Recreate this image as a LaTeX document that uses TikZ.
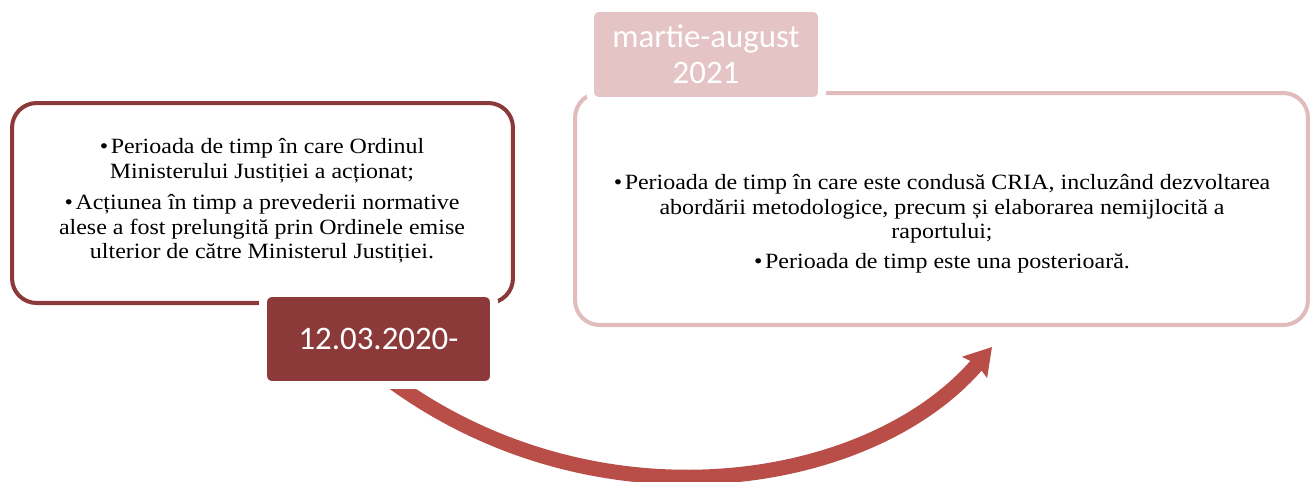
\documentclass[tikz,border=0pt]{standalone}
\usepackage{fontspec}
\setmainfont{Liberation Serif}
\newfontfamily\bodyfont[FakeStretch=1.1]{Liberation Serif}
\newfontfamily\labelfont{Carlito}
\usetikzlibrary{arrows.meta}
\definecolor{darkred}{RGB}{140,57,57}
\definecolor{arrowred}{RGB}{185,77,72}
\definecolor{palerose}{RGB}{228,196,196}
\definecolor{roseline}{RGB}{225,188,188}
\newcommand{\bul}{•\kern1.5pt}
\begin{document}
\begin{tikzpicture}[x=0.02cm,y=-0.02cm]
\tikzstyle{periodbox}=[draw, rectangle, line width=2.3pt, rounded corners=14pt]
\tikzstyle{datelabel}=[rectangle, draw=white, line width=4.5pt, rounded corners=5pt, text=white, font=\labelfont\fontsize{18.7}{20.4}\selectfont, align=center]
\tikzstyle{bodytext}=[align=center, text=black, font=\bodyfont\fontsize{12.4}{14}\selectfont]
\tikzstyle{bigarrow}=[draw=arrowred, line width=8.5pt, -{Stealth[length=15pt, width=18pt, inset=2pt]}]

\useasboundingbox (0,0) rectangle (1311,481);

% Period boxes
\node[periodbox, draw=darkred, minimum width=10.02cm, minimum height=4cm] (leftbox) at (262.5,203) {};
\node[periodbox, draw=roseline, minimum width=14.66cm, minimum height=4.64cm] (rightbox) at (941.5,209) {};

% Arrow between the periods
\coordinate (arcstart) at (386,377);
\coordinate (arcend) at (992,347);
\draw[bigarrow] (arcstart) .. controls (594,533) and (870,490) .. (arcend);

% Date labels
\node[datelabel, fill=darkred, minimum width=4.62cm, minimum height=1.84cm] (startdate) at (378.5,339) {12.03.2020-};
\node[datelabel, fill=palerose, minimum width=4.64cm, minimum height=1.86cm] (enddate) at (706,54.5) {martie-august\\2021};

% Box texts
\node[bodytext] (lefttext) at (262,201) {%
  \bul Perioada de timp în care Ordinul\\
  Ministerului Justiției a acționat;\\[4pt]
  \bul Acțiunea în timp a prevederii normative\\
  alese a fost prelungită prin Ordinele emise\\
  ulterior de către Ministerul Justiției.};
\node[bodytext] (righttext) at (942,224) {%
  \bul Perioada de timp în care este condusă CRIA, incluzând dezvoltarea\\
  abordării metodologice, precum și elaborarea nemijlocită a\\
  raportului;\\[3pt]
  \bul Perioada de timp este una posterioară.};
\end{tikzpicture}
\end{document}
